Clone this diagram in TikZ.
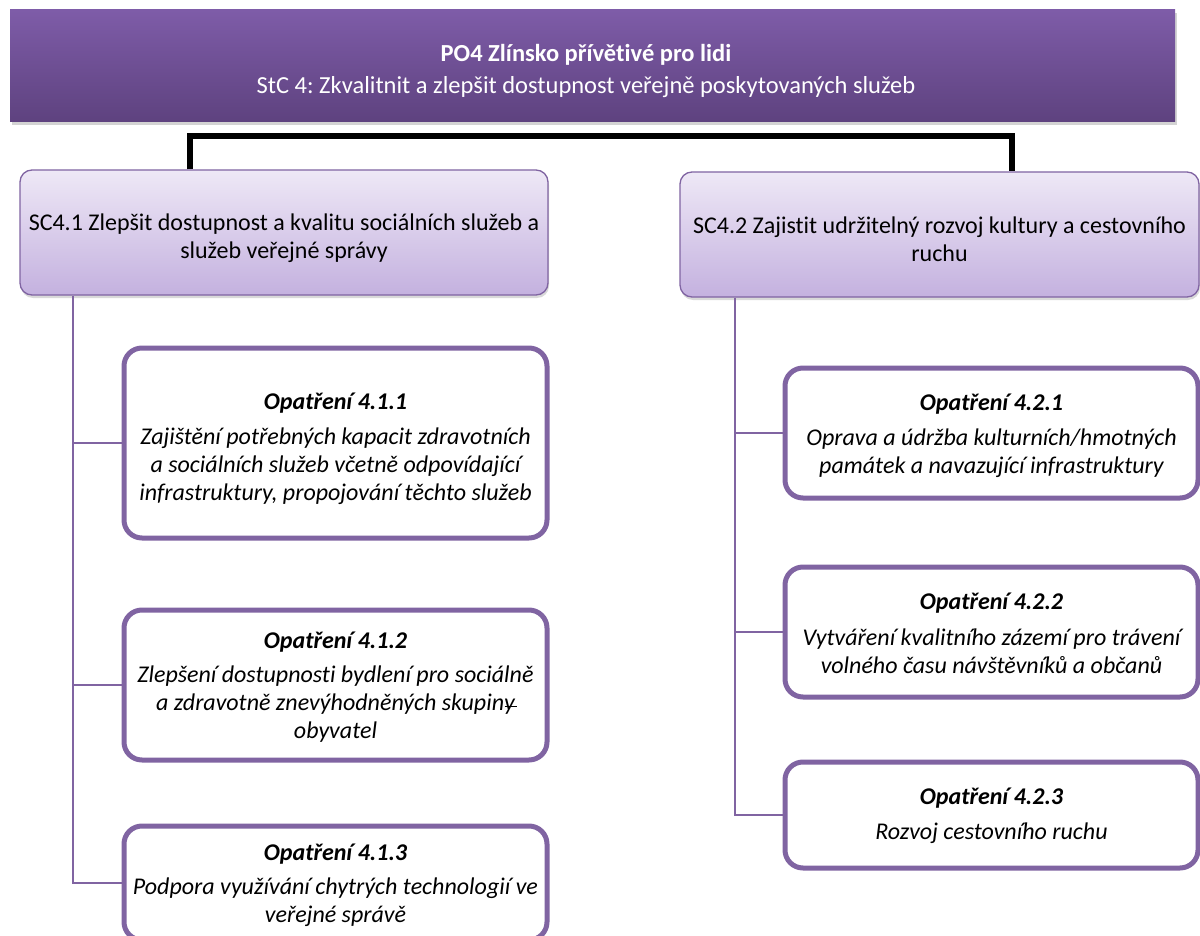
\documentclass[tikz,border=0pt]{standalone}
\usepackage{fontspec}
\setmainfont{Carlito}[Ligatures=NoCommon]
\usetikzlibrary{shadows}
\frenchspacing
\definecolor{pborder}{HTML}{8064A2}
\definecolor{topA}{HTML}{7E5CA8}
\definecolor{topB}{HTML}{5E427F}
\definecolor{scA}{HTML}{EEE8F6}
\definecolor{scB}{HTML}{C4B1DF}
\newcommand\mystrike[1]{\rlap{\hspace{0.02em}\rule[0.32ex]{0.5em}{0.09ex}}#1}
\begin{document}
\begin{tikzpicture}[x=1pt,y=-1pt,
  topbox/.style={rectangle, top color=topA, bottom color=topB, draw=none,
    drop shadow={opacity=0.35, shadow xshift=1.5pt, shadow yshift=-3pt}},
  toptxt/.style={text=white, align=center, inner sep=0pt, font=\fontsize{24.5}{32}\selectfont},
  scbox/.style={rectangle, rounded corners=12pt, draw=pborder, line width=1.3pt, top color=scA, bottom color=scB,
    drop shadow={opacity=0.3, shadow xshift=1pt, shadow yshift=-3pt}},
  sctxt/.style={align=center, inner sep=0pt, font=\fontsize{24}{28}\selectfont},
  mbox/.style={rectangle, rounded corners=18pt, draw=pborder, line width=5pt, fill=white},
  mtxt/.style={align=center, inner sep=0pt, font=\itshape\fontsize{24}{28}\selectfont},
  conn/.style={draw=pborder, line width=2pt},
  bracket/.style={draw=black, line width=5.5pt, line join=miter}
]
\useasboundingbox (0,0) rectangle (1200,936);
\clip (0,0) rectangle (1200,936);

\node[topbox, minimum width=1165pt, minimum height=112pt] (top) at (592.5,66) {};
\node[toptxt] (toptext) at (586,71)
  {\textbf{PO4 Zlínsko přívětivé pro lidi}\\StC 4: Zkvalitnit a zlepšit dostupnost veřejně poskytovaných služeb};

\node[scbox, minimum width=528pt, minimum height=125pt] (sc1) at (284,232.5) {};
\node[sctxt] (sc1text) at (284,238)
  {SC4.1 Zlepšit dostupnost a kvalitu sociálních služeb a\\služeb veřejné správy};
\node[scbox, minimum width=519pt, minimum height=125pt] (sc2) at (939.5,234.5) {};
\node[sctxt] (sc2text) at (939.5,239)
  {SC4.2 Zajistit udržitelný rozvoj kultury a cestovního\\ruchu};

\coordinate (bl) at (190,136);
\coordinate (br) at (1012,136);
\draw[bracket] (bl |- sc1.north) -- (bl) -- (br) -- (br |- sc2.north);

\node[mbox, minimum width=423pt, minimum height=190pt] (b411) at (335.5,443) {};
\node[mtxt] (m411) at (335.5,449)
  {{\bfseries Opatření 4.1.1}\\[7pt]Zajištění potřebných kapacit zdravotních\\a sociálních služeb včetně odpovídající\\infrastruktury, propojování těchto služeb};
\node[mbox, minimum width=423pt, minimum height=150pt] (b412) at (335.5,685) {};
\node[mtxt] (m412) at (335.5,687)
  {{\bfseries Opatření 4.1.2}\\[6pt]Zlepšení dostupnosti bydlení pro sociálně\\a zdravotně znevýhodněných skupin\mystrike{y}\\obyvatel};
\node[mbox, minimum width=423pt, minimum height=114pt] (b413) at (335.5,883) {};
\node[mtxt] (m413) at (335.5,885)
  {{\bfseries Opatření 4.1.3}\\[6pt]Podpora využívání chytrých technologií ve\\veřejné správě};

\node[mbox, minimum width=413pt, minimum height=130pt] (b421) at (991.5,433) {};
\node[mtxt] (m421) at (991.5,436)
  {{\bfseries Opatření 4.2.1}\\[7pt]Oprava a údržba kulturních/hmotných\\památek a navazující infrastruktury};
\node[mbox, minimum width=413pt, minimum height=130pt] (b422) at (991.5,632) {};
\node[mtxt] (m422) at (991.5,633)
  {{\bfseries Opatření 4.2.2}\\[8pt]Vytváření kvalitního zázemí pro trávení\\volného času návštěvníků a občanů};
\node[mbox, minimum width=413pt, minimum height=106pt] (b423) at (991.5,815) {};
\node[mtxt] (m423) at (991.5,816)
  {{\bfseries Opatření 4.2.3}\\[7pt]Rozvoj cestovního ruchu};

\coordinate (tl) at (73,0);
\coordinate (tr) at (735,0);
\draw[conn] (sc1.south -| tl) -- (tl |- b413.west) -- (b413.west);
\draw[conn] (tl |- b411.west) -- (b411.west);
\draw[conn] (tl |- b412.west) -- (b412.west);
\draw[conn] (sc2.south -| tr) -- (tr |- b423.west) -- (b423.west);
\draw[conn] (tr |- b421.west) -- (b421.west);
\draw[conn] (tr |- b422.west) -- (b422.west);
\end{tikzpicture}
\end{document}
